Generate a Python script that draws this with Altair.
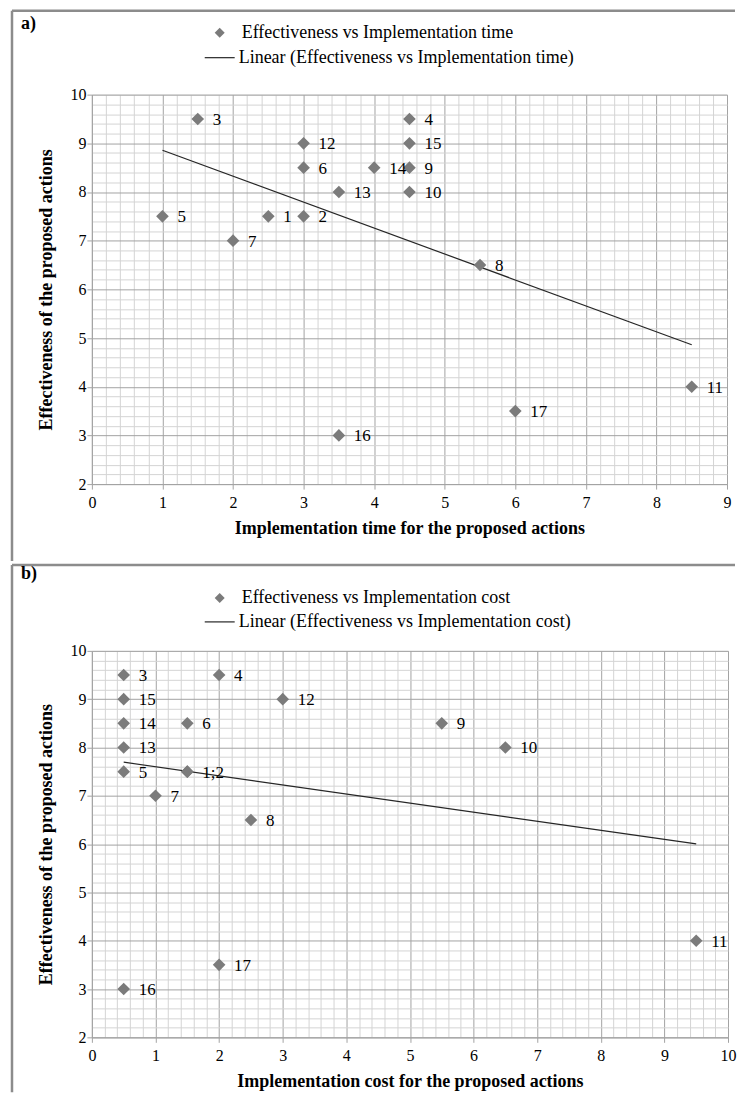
import altair as alt
import pandas as pd

# ---------------- data ----------------
ACTIONS = ["1", "2", "3", "4", "5", "6", "7", "8", "9", "10",
           "11", "12", "13", "14", "15", "16", "17"]
TIME = [2.5, 3, 1.5, 4.5, 1, 3, 2, 5.5, 4.5, 4.5, 8.5, 3, 3.5, 4, 4.5, 3.5, 6]
COST = [1.5, 1.5, 0.5, 2, 0.5, 1.5, 1, 2.5, 5.5, 6.5, 9.5, 3, 0.5, 0.5, 0.5, 0.5, 2]
EFFECT = [7.5, 7.5, 9.5, 9.5, 7.5, 8.5, 7, 6.5, 8.5, 8, 4, 9, 8, 8.5, 9, 3, 3.5]
LABELS_A = ["1", "2", "3", "4", "5", "6", "7", "8", "9", "10",
            "11", "12", "13", "14", "15", "16", "17"]
LABELS_B = ["1;2", "", "3", "4", "5", "6", "7", "8", "9", "10",
            "11", "12", "13", "14", "15", "16", "17"]

X_TICKS_A = [0, 1, 2, 3, 4, 5, 6, 7, 8, 9]
X_TICKS_B = [0, 1, 2, 3, 4, 5, 6, 7, 8, 9, 10]
Y_TICKS = [2, 3, 4, 5, 6, 7, 8, 9, 10]
MINOR_PER_MAJOR = 5

LEG_PT_A = "Effectiveness vs Implementation time"
LEG_LN_A = "Linear (Effectiveness vs Implementation time)"
LEG_PT_B = "Effectiveness vs Implementation cost"
LEG_LN_B = "Linear (Effectiveness vs Implementation cost)"
XTITLE_A = "Implementation time for the proposed actions"
XTITLE_B = "Implementation cost for the proposed actions"
YTITLE = "Effectiveness of the proposed actions"

# ---------------- styles ----------------
FONT = "Liberation Serif, Times New Roman, DejaVu Serif, serif"
PT_COLOR = "#7b7b7b"
LINE_COLOR = "#262626"
GRID_MAJOR = "#a3a3a3"
GRID_MINOR = "#d4d4d4"
BORDER = "#8c8c8c"
TEST = "abs(datum.value - round(datum.value)) < 0.001"


def grid_values(ticks):
    vals = []
    for i in range(len(ticks) - 1):
        for k in range(MINOR_PER_MAJOR):
            vals.append(round(ticks[i] + (ticks[i + 1] - ticks[i]) * k / MINOR_PER_MAJOR, 4))
    vals.append(ticks[-1])
    return vals


def make_axis(title, ticks, orient):
    common = dict(
        title=title,
        values=grid_values(ticks),
        grid=True,
        gridColor={"condition": {"test": TEST, "value": GRID_MAJOR}, "value": GRID_MINOR},
        gridWidth=1,
        tickOpacity={"condition": {"test": TEST, "value": 1}, "value": 0},
        tickColor=GRID_MAJOR,
        tickSize=5,
        domainColor=GRID_MAJOR,
        labelExpr=f"{TEST} ? format(datum.value, 'd') : ''",
        labelFont=FONT,
        labelFontSize=16,
        labelColor="black",
        labelOverlap=False,
        labelFlush=False,
        titleFont=FONT,
        titleFontSize=18,
        titleFontWeight="bold",
        titleColor="black",
    )
    if orient == "bottom":
        common.update(labelPadding=5, titlePadding=9)
    else:
        common.update(labelPadding=1, titlePadding=14)
    return alt.Axis(**common)


def panel(xvals, labels, xticks, w, h, xtitle, leg_pt, leg_ln, tag, geo):
    df = pd.DataFrame({
        "xv": xvals,
        "eff": EFFECT,
        "label": labels,
        "series": [leg_pt] * len(xvals),
    })
    x = alt.X("xv:Q", scale=alt.Scale(domain=[xticks[0], xticks[-1]], nice=False, zero=False),
              axis=make_axis(xtitle, xticks, "bottom"))
    y = alt.Y("eff:Q", scale=alt.Scale(domain=[Y_TICKS[0], Y_TICKS[-1]], nice=False, zero=False),
              axis=make_axis(YTITLE, Y_TICKS, "left"))
    base = alt.Chart(df)

    trend = base.transform_regression("xv", "eff").transform_calculate(
        trend=f"'{leg_ln}'"
    ).mark_line(strokeWidth=1.2).encode(
        x=x, y=y,
        stroke=alt.Stroke("trend:N", scale=alt.Scale(range=[LINE_COLOR]),
                          legend=alt.Legend(title=None, orient="none",
                                            legendX=geo["lnx"], legendY=geo["lny"],
                                            symbolType="stroke", symbolSize=900,
                                            symbolStrokeWidth=1.2,
                                            labelFont=FONT, labelFontSize=18, labelColor="black",
                                            labelOffset=3, labelLimit=700, padding=0)),
    )
    pts = base.mark_point(filled=True, size=160, color=PT_COLOR, opacity=1, strokeWidth=0).encode(
        x=x, y=y,
        shape=alt.Shape("series:N", scale=alt.Scale(range=["diamond"]),
                        legend=alt.Legend(title=None, orient="none",
                                          legendX=geo["ptx"], legendY=geo["pty"],
                                          symbolType="diamond", symbolSize=100,
                                          symbolFillColor=PT_COLOR, symbolStrokeWidth=0,
                                          symbolOpacity=1,
                                          labelFont=FONT, labelFontSize=18, labelColor="black",
                                          labelOffset=13, labelLimit=700, padding=0)),
    )
    txt = base.mark_text(align="left", baseline="middle", dx=15, dy=1, fontSize=17,
                         font=FONT, color="black").encode(x=x, y=y, text="label:N")

    deco = pd.DataFrame({"tag": [tag]})
    dchart = alt.Chart(deco)
    tag_mark = dchart.mark_text(align="left", baseline="middle", fontSize=18, fontWeight="bold",
                                font=FONT, color="black").encode(
        x=alt.value(geo["tagx"]), y=alt.value(geo["tagy"]), text="tag:N")
    layers = [
        dchart.mark_rule(color=BORDER, strokeWidth=2.5).encode(
            x=alt.value(geo["bx"]), y=alt.value(geo["btop"]), y2=alt.value(geo["bbot"])),
        dchart.mark_rule(color=BORDER, strokeWidth=2.5).encode(
            x=alt.value(geo["bx"]), x2=alt.value(geo["bright"]), y=alt.value(geo["btop"])),
        tag_mark, trend, pts, txt,
    ]
    return alt.layer(*layers).properties(width=w, height=h)


geo_a = dict(bx=-80, btop=-84, bbot=467, bright=644, tagx=-71, tagy=-71,
             ptx=119, pty=-71, lnx=112, lny=-53)
geo_b = dict(bx=-80, btop=-86, bbot=442, bright=644, tagx=-71, tagy=-77,
             ptx=119, pty=-62, lnx=112, lny=-45)

chart_a = panel(TIME, LABELS_A, X_TICKS_A, 636, 390, XTITLE_A, LEG_PT_A, LEG_LN_A, "a)", geo_a)
chart_b = panel(COST, LABELS_B, X_TICKS_B, 637, 387, XTITLE_B, LEG_PT_B, LEG_LN_B, "b)", geo_b)

chart = alt.vconcat(chart_a, chart_b, spacing=0).resolve_scale(
    shape="independent", stroke="independent"
).resolve_legend(
    shape="independent", stroke="independent"
).properties(
    padding={"left": 2, "top": 0, "right": 0, "bottom": 0},
    background="white",
).configure_view(stroke="transparent").configure(font=FONT)

chart.save("out.html", embed_options={"renderer": "svg", "actions": False})
